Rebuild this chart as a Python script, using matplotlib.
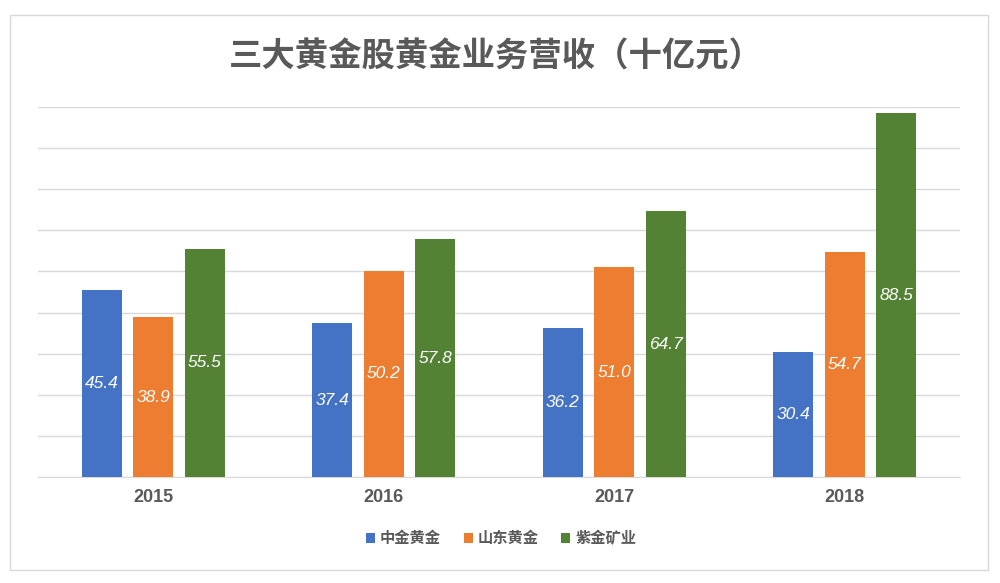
import numpy as np
import matplotlib.pyplot as plt
from matplotlib.patches import Rectangle

plt.rcParams['font.family'] = ['Noto Sans CJK SC', 'DejaVu Sans']

years = ['2015', '2016', '2017', '2018']
series = ['中金黄金', '山东黄金', '紫金矿业']
zhongjin = [45.4, 37.4, 36.2, 30.4]
shandong = [38.9, 50.2, 51.0, 54.7]
zijin = [55.5, 57.8, 64.7, 88.5]
colors = ['#4472C4', '#ED7D31', '#548235']

fig = plt.figure(figsize=(10, 5.83), dpi=100)
fig.patches.append(Rectangle((0.010, 0.022), 0.978, 0.953, transform=fig.transFigure,
                             fill=False, edgecolor='#D9D9D9', linewidth=1))
ax = fig.add_axes([0.038, 1 - 477 / 583, 0.922, 370 / 583])

x = np.arange(len(years))
w = 0.174
step = 0.223
for i, (vals, c) in enumerate(zip([zhongjin, shandong, zijin], colors)):
    pos = x + (i - 1) * step
    ax.bar(pos, vals, width=w, color=c, label=series[i], zorder=3)
    for xp, v in zip(pos, vals):
        ax.text(xp, v / 2, f'{v:.1f}', ha='center', va='center', color='white',
                fontsize=12.5, style='italic', family='Liberation Sans', zorder=4)

ax.set_xlim(-0.5, 3.5)
ax.set_ylim(0, 90)
ax.set_yticks(np.arange(0, 91, 10))
ax.yaxis.grid(True, color='#D9D9D9', linewidth=1, zorder=0)
ax.tick_params(axis='y', left=False, labelleft=False)
ax.tick_params(axis='x', length=0, pad=9)
ax.set_xticks(x)
ax.set_xticklabels(years, fontsize=13, color='#595959', fontweight='bold', family='Liberation Sans')
for s in ['top', 'right', 'left']:
    ax.spines[s].set_visible(False)
ax.spines['bottom'].set_color('#D9D9D9')

fig.text(0.496, 0.902, '三大黄金股黄金业务营收（十亿元）', ha='center', va='center',
         fontsize=24, color='#595959', fontweight='bold')

fig.legend(loc='center', bbox_to_anchor=(0.501, 0.077), ncol=3, frameon=False,
           handlelength=0.6, handleheight=0.6, handletextpad=0.3, columnspacing=1.5,
           prop={'size': 11, 'weight': 'bold'}, labelcolor='#595959')

fig.savefig('out.png', dpi=100)
